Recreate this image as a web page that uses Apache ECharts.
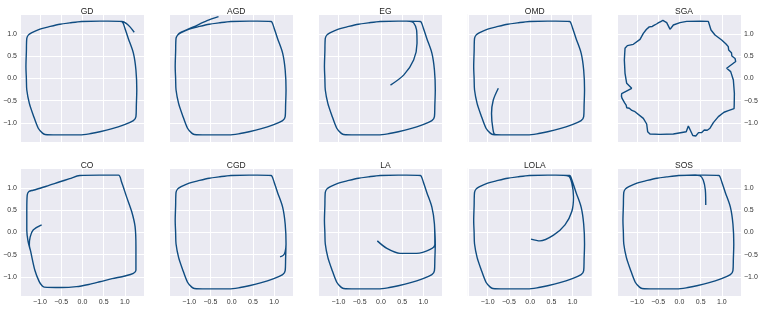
<!DOCTYPE html>
<html><head><meta charset="utf-8">
<script src="https://cdn.jsdelivr.net/npm/echarts@6/dist/echarts.min.js"></script>
<style>html,body{margin:0;padding:0;background:#fff}#c{width:761px;height:309px}</style>
</head><body><div id="c"></div>
<script>
const panelNames = ['GD','AGD','EG','OMD','SGA','CO','CGD','LA','LOLA','SOS'];
const xTicks = [-1.0,-0.5,0.0,0.5,1.0];
const yTicks = [-1.0,-0.5,0.0,0.5,1.0];

// common limit cycle (counter-clockwise, starting at top-right corner)
const loopMain = [[0.93,1.28],[0.6,1.29],[0.41,1.29],[-0.02,1.28],[-0.3,1.25],[-0.53,1.22],[-0.8,1.16],[-1.0,1.11],[-1.19,1.03],[-1.27,0.98],
[-1.31,0.9],[-1.32,0.6],[-1.33,0.26],[-1.32,0.0],[-1.31,-0.26],[-1.25,-0.56],[-1.16,-0.82],[-1.04,-1.12],[-0.94,-1.23],[-0.88,-1.26],
[-0.6,-1.27],[-0.37,-1.27],[-0.06,-1.27],[0.2,-1.24],[0.41,-1.2],[0.7,-1.13],[0.96,-1.05],[1.2,-0.95],[1.26,-0.86],[1.27,-0.6],
[1.28,-0.26],[1.26,0.19],[1.2,0.57],[1.08,0.9],[1.0,1.13],[0.96,1.24],[0.93,1.28]];

const loopCO = [[-1.22,-0.42],[-1.12,-0.85],[-1.02,-1.1],[-0.95,-1.2],[-0.9,-1.23],[-0.5,-1.24],[-0.14,-1.22],[0.15,-1.17],[0.41,-1.11],[0.7,-1.04],
[1.0,-0.98],[1.2,-0.92],[1.26,-0.85],[1.26,-0.32],[1.24,0.13],[1.16,0.47],[1.04,0.8],[0.92,1.14],[0.85,1.29],[0.4,1.29],
[-0.06,1.28],[-0.3,1.21],[-0.53,1.14],[-0.85,1.04],[-1.16,0.95],[-1.26,0.92],[-1.3,0.84],[-1.31,0.5],[-1.31,0.05],[-1.28,-0.2],[-1.22,-0.42]];

const headGD = [[1.22,1.04],[1.12,1.16],[1.03,1.24]];
const headAGD = [[-0.31,1.39],[-0.58,1.30],[-0.9,1.16],[-1.21,1.03]];
const headEG = [[0.225,-0.15],[0.54,0.08],[0.77,0.415],[0.85,0.79],[0.84,1.09],[0.77,1.25],[0.68,1.285]];
const headOMD = [[-0.75,-0.22],[-0.87,-0.49],[-0.91,-0.79],[-0.88,-1.12],[-0.83,-1.26]];
const headCO = [[-0.96,0.17],[-1.16,0.055],[-1.23,-0.10],[-1.25,-0.28]];
const headCGD = [[1.14,-0.55],[1.22,-0.51],[1.26,-0.43]];
const headLA = [[-0.085,-0.19],[0.14,-0.36],[0.45,-0.47],[0.84,-0.47],[1.16,-0.38],[1.27,-0.27]];
const headLOLA = [[0.02,-0.15],[0.23,-0.19],[0.55,-0.06],[0.82,0.17],[0.98,0.47],[1.02,0.8],[0.98,1.11],[0.9,1.27]];
const headSOS = [[0.62,0.62],[0.61,0.955],[0.56,1.18],[0.48,1.28],[0.37,1.29]];

const loopSGA = [[-0.22,1.105],[-0.143,1.203],[0.014,1.255],[0.171,1.285],[0.485,1.29],[0.681,1.285],[0.72,1.255],[0.744,1.09],[0.838,0.978],[0.995,0.865],
[1.097,0.775],[1.13,0.76],[1.115,0.73],[1.15,0.715],[1.135,0.685],[1.175,0.67],[1.16,0.64],[1.2,0.625],[1.185,0.595],[1.225,0.58],[1.21,0.55],
[1.25,0.535],[1.235,0.505],[1.28,0.49],[1.265,0.46],[1.31,0.45],[1.3,0.42],[1.34,0.41],[1.325,0.38],[1.345,0.36],[1.309,0.34],
[1.113,0.228],[1.207,0.153],[1.27,-0.035],[1.294,-0.335],[1.29,-0.6],[1.286,-0.68],[1.27,-0.71],[1.152,-0.725],[1.05,-0.76],[0.917,-0.86],[0.799,-0.995],
[0.72,-1.12],[0.70,-1.15],[0.675,-1.125],[0.655,-1.165],[0.63,-1.14],[0.61,-1.18],[0.585,-1.16],[0.565,-1.2],[0.54,-1.18],[0.52,-1.22],[0.495,-1.2],
[0.475,-1.24],[0.45,-1.22],[0.43,-1.265],[0.405,-1.245],[0.385,-1.295],[0.36,-1.27],[0.34,-1.315],[0.315,-1.285],[0.295,-1.31],[0.27,-1.26],
[0.21,-1.07],[0.16,-1.2],[0.132,-1.24],[-0.143,-1.25],[-0.457,-1.258],[-0.693,-1.25],[-0.748,-1.198],[-0.771,-1.025],[-0.85,-0.898],[-1.046,-0.748],
[-1.12,-0.72],[-1.14,-0.69],[-1.16,-0.715],[-1.18,-0.67],[-1.2,-0.69],[-1.22,-0.64],[-1.24,-0.66],[-1.255,-0.6],[-1.275,-0.615],[-1.29,-0.55],
[-1.31,-0.565],[-1.32,-0.5],[-1.345,-0.51],[-1.35,-0.45],[-1.37,-0.46],[-1.365,-0.4],[-1.38,-0.38],[-1.36,-0.34],[-1.336,-0.298],
[-1.124,-0.223],[-1.242,-0.11],[-1.281,0.115],[-1.297,0.415],[-1.281,0.678],[-1.226,0.738],[-1.085,0.768],[-0.928,0.88],[-0.85,1.015],
[-0.78,1.10],[-0.76,1.14],[-0.735,1.115],[-0.71,1.16],[-0.69,1.14],[-0.665,1.19],[-0.64,1.17],[-0.615,1.215],[-0.59,1.2],[-0.565,1.245],
[-0.54,1.225],[-0.515,1.27],[-0.49,1.255],[-0.465,1.3],[-0.44,1.28],[-0.415,1.325],[-0.39,1.305],[-0.363,1.335],[-0.3,1.255],[-0.22,1.105]];

function around(loop, i) {
  const n = loop.length - 1, out = [];
  for (let k = 0; k <= n; k++) out.push(loop[(i + k) % n]);
  return out;
}

const paths = [
  headGD.concat(around(loopMain, 0)),
  headAGD.concat(around(loopMain, 9)),
  headEG.concat(around(loopMain, 1)),
  headOMD.concat(around(loopMain, 20)),
  loopSGA,
  headCO.concat(loopCO),
  headCGD.concat(around(loopMain, 30)),
  headLA.concat(around(loopMain, 31)),
  headLOLA.concat(around(loopMain, 1)),
  headSOS.concat(around(loopMain, 3))
];

const font = "'Liberation Sans', Arial, sans-serif";
const fmt = v => {
  const r = Math.round(v * 10) / 10;
  if (Math.abs(v - r) > 1e-6) return '';
  return (r < 0 ? '\u2212' : '') + Math.abs(r).toFixed(1);
};

const grids = [], xAxes = [], yAxes = [], series = [], titles = [];
const W = 124, H = 128;
for (let i = 0; i < 10; i++) {
  const row = Math.floor(i / 5), col = i % 5;
  const left = 20 + col * 149.25, top = row === 0 ? 14 : 168;
  grids.push({left: left, top: top, width: W, height: H, show: true, backgroundColor: '#EAEAF2', borderWidth: 0, containLabel: false});
  titles.push({text: panelNames[i], left: left + W / 2, top: top - 12, textAlign: 'center',
    textStyle: {fontSize: 8.5, fontWeight: 'normal', color: '#262626', fontFamily: font}});
  xAxes.push({type: 'value', gridIndex: i, min: -1.47, max: 1.45, splitNumber: 5,
    axisLine: {show: false}, axisTick: {show: false},
    splitLine: {show: true, lineStyle: {color: '#ffffff', width: 1}},
    axisLabel: {show: row === 1, formatter: fmt, fontSize: 7, color: '#333', fontFamily: font, margin: 3, showMinLabel: false, showMaxLabel: false}});
  yAxes.push({type: 'value', gridIndex: i, min: -1.43, max: 1.45, splitNumber: 5,
    position: col === 4 ? 'right' : 'left',
    axisLine: {show: false}, axisTick: {show: false},
    splitLine: {show: true, lineStyle: {color: '#ffffff', width: 1}},
    axisLabel: {show: col === 0 || col === 4, formatter: fmt, fontSize: 7, color: '#333', fontFamily: font, margin: 3, showMinLabel: false, showMaxLabel: false}});
  series.push({type: 'line', xAxisIndex: i, yAxisIndex: i, data: paths[i], showSymbol: false,
    smooth: i === 4 ? false : 0.3, lineStyle: {color: '#0f4c81', width: 1.4}, silent: true});
}

const chart = echarts.init(document.getElementById('c'), null, {renderer: 'canvas'});
chart.setOption({animation: false, title: titles, grid: grids, xAxis: xAxes, yAxis: yAxes, series: series});
</script></body></html>
